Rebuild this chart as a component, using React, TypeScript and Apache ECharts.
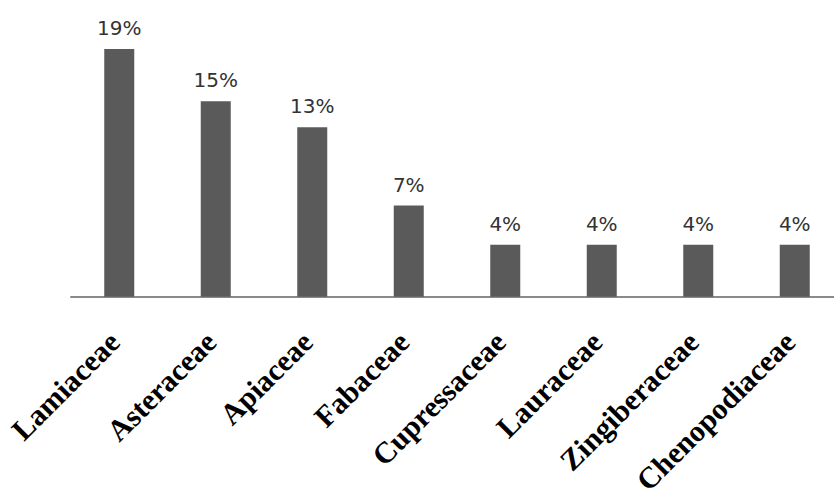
import React, { useEffect, useRef } from "react";
import * as echarts from "echarts";

const families = [
  "Lamiaceae",
  "Asteraceae",
  "Apiaceae",
  "Fabaceae",
  "Cupressaceae",
  "Lauraceae",
  "Zingiberaceae",
  "Chenopodiaceae",
];

const shares = [19, 15, 13, 7, 4, 4, 4, 4];

export default function App() {
  const ref = useRef<HTMLDivElement>(null);

  useEffect(() => {
    if (!ref.current) return;
    const chart = echarts.init(ref.current, null, { renderer: "svg" });
    chart.setOption({
      animation: false,
      backgroundColor: "#ffffff",
      grid: { left: 71, right: 0, top: 36, bottom: 200.5, containLabel: false },
      xAxis: {
        type: "category",
        data: families,
        axisLine: { show: true, lineStyle: { color: "#8a8a8a", width: 2 } },
        axisTick: { show: false },
        axisLabel: {
          rotate: 45,
          margin: 35,
          interval: 0,
          padding: [0, 7, 0, 0],
          color: "#000000",
          fontFamily: "Liberation Serif",
          fontWeight: "bold",
          fontSize: 30,
        },
      },
      yAxis: {
        type: "value",
        min: 0,
        max: 20,
        show: false,
        splitLine: { show: false },
      },
      series: [
        {
          type: "bar",
          data: shares,
          barWidth: 30,
          itemStyle: { color: "#5a5a5a" },
          label: {
            show: true,
            position: "top",
            distance: 11,
            formatter: "{c}%",
            color: "#333333",
            fontFamily: "DejaVu Sans",
            fontSize: 20,
          },
        },
      ],
    });
    return () => chart.dispose();
  }, []);

  return (
    <div
      style={{
        position: "absolute",
        left: 0,
        top: 0,
        width: 834,
        height: 498,
        overflow: "hidden",
      }}
    >
      <div ref={ref} style={{ width: 843, height: 498 }} />
    </div>
  );
}
